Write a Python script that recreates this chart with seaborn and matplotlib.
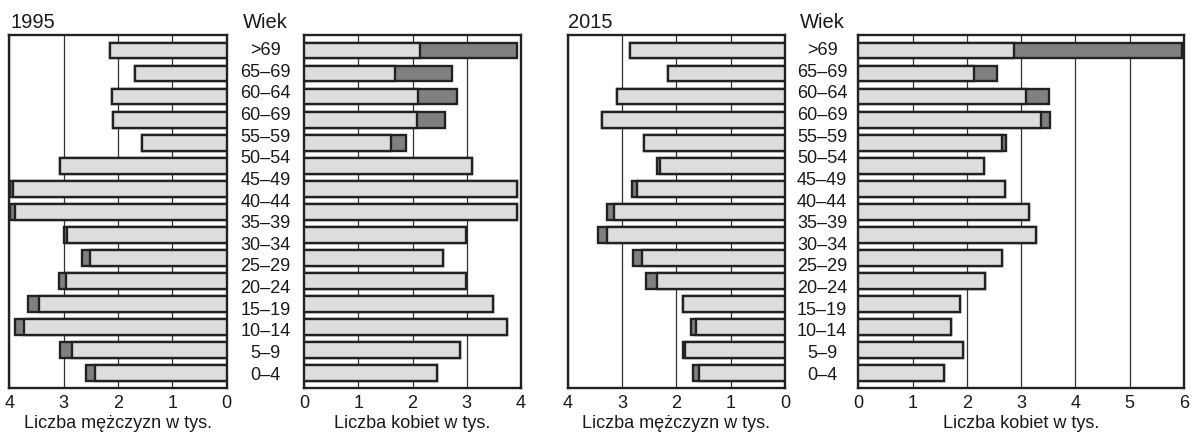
import matplotlib
matplotlib.use('Agg')
import matplotlib.pyplot as plt
import seaborn as sns
import pandas as pd
from matplotlib.transforms import blended_transform_factory

sns.set_style('white')
plt.rcParams['font.family'] = ['Liberation Sans', 'DejaVu Sans']

# ---- data ----
age_labels = ['>69', '65–69', '60–64', '60–69', '55–59', '50–54', '45–49', '40–44',
              '35–39', '30–34', '25–29', '20–24', '15–19', '10–14', '5–9', '0–4']
bar_ids = [f'b{i:02d}' for i in range(15)]

men_1995_light = [2.15, 1.69, 2.11, 2.09, 1.55, 3.06, 3.93, 3.90, 2.93, 2.52, 2.95, 3.45, 3.73, 2.85, 2.43]
men_1995_total = [2.15, 1.69, 2.11, 2.09, 1.55, 3.06, 3.98, 3.98, 2.99, 2.66, 3.09, 3.65, 3.90, 3.07, 2.58]
women_1995_light = [2.13, 1.68, 2.11, 2.08, 1.60, 3.09, 3.92, 3.92, 2.99, 2.56, 2.99, 3.48, 3.75, 2.87, 2.45]
women_1995_total = [3.92, 2.72, 2.82, 2.59, 1.88, 3.09, 3.92, 3.92, 2.99, 2.56, 2.99, 3.48, 3.75, 2.87, 2.45]
men_2015_light = [2.85, 2.15, 3.09, 3.36, 2.59, 2.30, 2.73, 3.15, 3.28, 2.63, 2.36, 1.88, 1.63, 1.84, 1.58]
men_2015_total = [2.85, 2.15, 3.09, 3.36, 2.59, 2.36, 2.81, 3.27, 3.45, 2.80, 2.55, 1.88, 1.73, 1.88, 1.69]
women_2015_light = [2.87, 2.14, 3.09, 3.36, 2.65, 2.31, 2.71, 3.14, 3.27, 2.65, 2.34, 1.87, 1.70, 1.92, 1.58]
women_2015_total = [5.97, 2.55, 3.52, 3.53, 2.73, 2.31, 2.71, 3.14, 3.27, 2.65, 2.34, 1.87, 1.70, 1.92, 1.58]

LIGHT = '#dddddd'
DARK = '#808080'
EDGE = '#222222'
TXT = '#1a1a1a'
FS = 13
FS_TITLE = 14.5

W, H = 1193, 434
fig = plt.figure(figsize=(W / 100, H / 100), dpi=100)


def px_axes(x0, x1, y0, y1):
    return fig.add_axes([x0 / W, 1 - y1 / H, (x1 - x0) / W, (y1 - y0) / H])


def draw(ax, light, total, xmax, invert, xlabel):
    df = pd.DataFrame({'grupa': bar_ids, 'light': light, 'total': total})
    common = dict(data=df, y='grupa', order=bar_ids, orient='h', saturation=1,
                  width=0.68, edgecolor=EDGE, linewidth=1.7, errorbar=None, ax=ax)
    sns.barplot(x='total', color=DARK, zorder=2, **common)
    sns.barplot(x='light', color=LIGHT, zorder=3, **common)
    if invert:
        ax.set_xlim(xmax, 0)
    else:
        ax.set_xlim(0, xmax)
    ax.set_ylim(14.66, -0.68)
    ax.set_xticks(range(xmax + 1))
    ax.set_yticks([])
    ax.set_ylabel('')
    ax.set_xlabel(xlabel, fontsize=FS, color=TXT, labelpad=2.5)
    ax.tick_params(axis='x', length=0, pad=5, labelsize=FS, labelcolor=TXT)
    ax.set_axisbelow(True)
    ax.grid(axis='x', color='#333333', linewidth=0.9)
    ax.grid(axis='y', visible=False)
    for s in ax.spines.values():
        s.set_visible(True)
        s.set_color(EDGE)
        s.set_linewidth(1.7)


ax1 = px_axes(9.3, 226.7, 35, 388)
ax2 = px_axes(304, 521, 35, 388)
ax3 = px_axes(567.7, 785, 35, 388)
ax4 = px_axes(858.3, 1184, 35, 388)

draw(ax1, men_1995_light, men_1995_total, 4, True, 'Liczba mężczyzn w tys.')
draw(ax2, women_1995_light, women_1995_total, 4, False, 'Liczba kobiet w tys.')
draw(ax3, men_2015_light, men_2015_total, 4, True, 'Liczba mężczyzn w tys.')
draw(ax4, women_2015_light, women_2015_total, 6, False, 'Liczba kobiet w tys.')

n = len(age_labels)
for ax, xc in ((ax1, 265.5), (ax3, 822)):
    tr = blended_transform_factory(fig.transFigure, ax.transData)
    for i, lab in enumerate(age_labels):
        ypos = 14.1 * i / (n - 1)
        ax.text(xc / W, ypos, lab, transform=tr, ha='center', va='center',
                fontsize=FS, color=TXT, clip_on=False)

for title, x0, xw in (('1995', 10, 265.5), ('2015', 568, 822)):
    fig.text(x0 / W, 1 - 22 / H, title, ha='left', va='center', fontsize=FS_TITLE, color=TXT)
    fig.text(xw / W, 1 - 22 / H, 'Wiek', ha='center', va='center', fontsize=FS_TITLE, color=TXT)

fig.savefig('out.png', dpi=100)
